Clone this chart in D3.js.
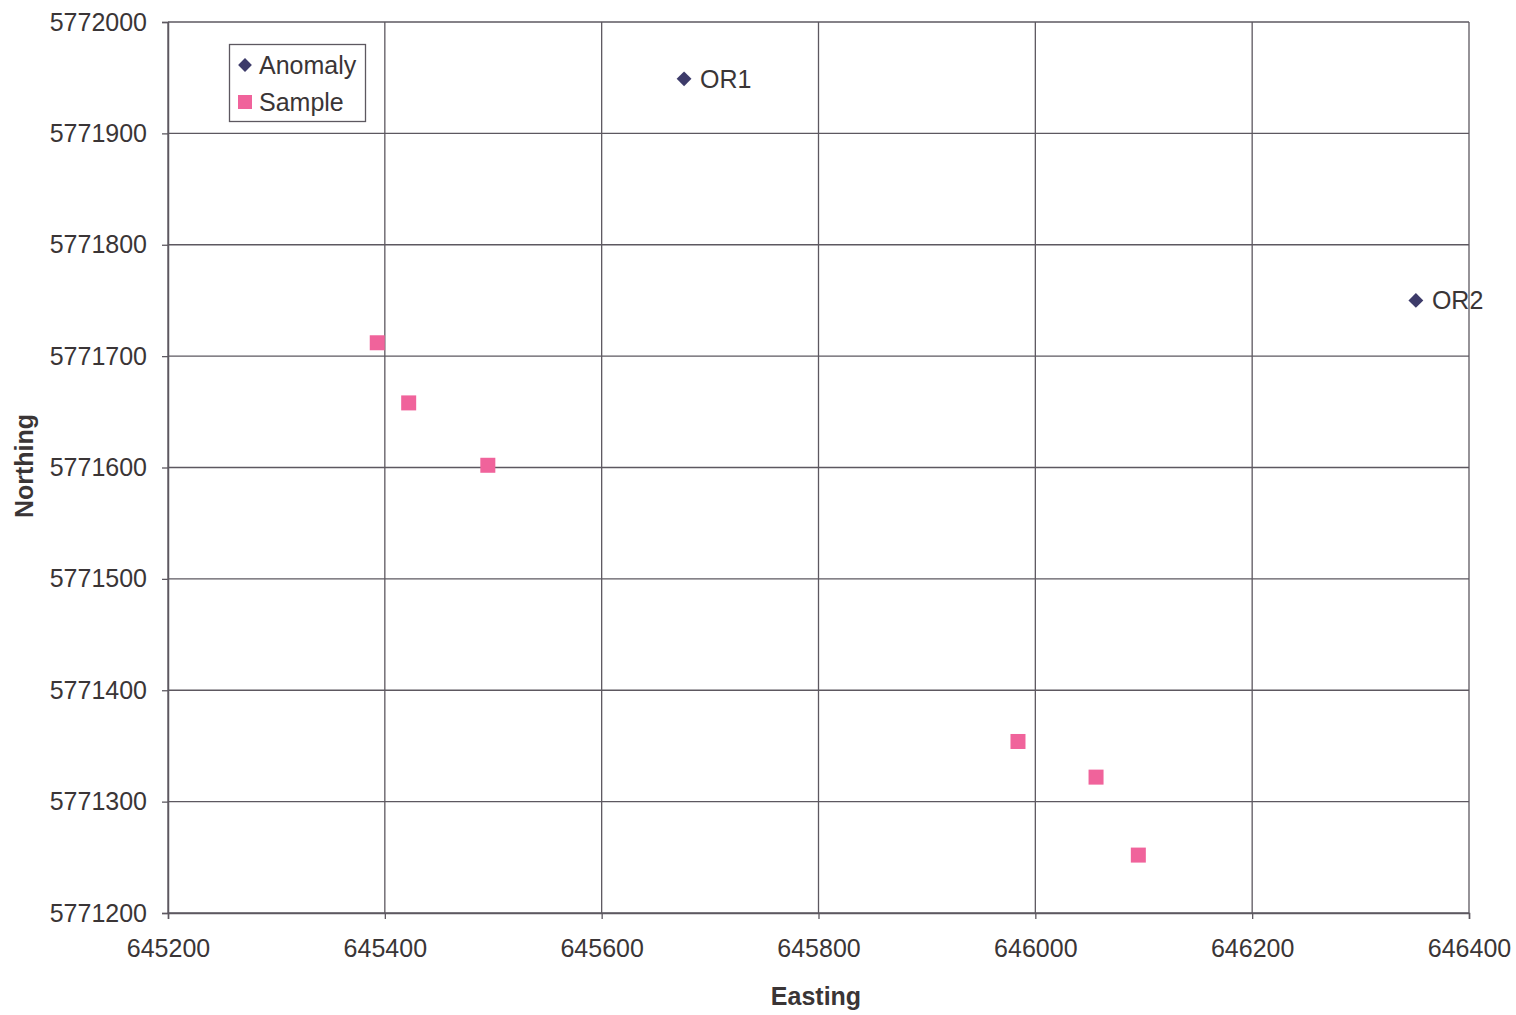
<!DOCTYPE html>
<html><head><meta charset="utf-8">
<script src="https://cdn.jsdelivr.net/npm/d3@7"></script>
<style>body{margin:0;background:#fff;} text{font-family:"Liberation Sans",Arial,sans-serif;fill:#3a3536;}</style>
</head><body>
<svg id="c" width="1516" height="1015"></svg>
<script>
const xTicks = [645200, 645400, 645600, 645800, 646000, 646200, 646400];
const yTicks = [5771200, 5771300, 5771400, 5771500, 5771600, 5771700, 5771800, 5771900, 5772000];
const anomalyNames = ["OR1", "OR2"];
const anomalyEasting = [645676, 646351];
const anomalyNorthing = [5771949, 5771750];
const sampleEasting = [645393, 645422, 645495, 645984, 646056, 646095];
const sampleNorthing = [5771712, 5771658, 5771602, 5771354, 5771322, 5771252];

const svg = d3.select("#c");
const L = 168, R = 1469, T = 22, B = 913;
const x = d3.scaleLinear().domain([645200, 646400]).range([L, R]);
const y = d3.scaleLinear().domain([5771200, 5772000]).range([B, T]);
const grid = "#5d5860";
const fs = 25;

// gridlines
svg.append("g").selectAll("line").data(xTicks).join("line")
  .attr("x1", d => x(d)).attr("x2", d => x(d)).attr("y1", T).attr("y2", B)
  .attr("stroke", grid).attr("stroke-width", 1.3);
svg.append("g").selectAll("line").data(yTicks).join("line")
  .attr("x1", L).attr("x2", R).attr("y1", d => y(d)).attr("y2", d => y(d))
  .attr("stroke", grid).attr("stroke-width", 1.3);

// axes
const xAxis = svg.append("g").attr("transform", `translate(0,${B})`)
  .call(d3.axisBottom(x).tickValues(xTicks).tickFormat(d3.format("d")).tickSize(6).tickPadding(20));
const yAxis = svg.append("g").attr("transform", `translate(${L},0)`)
  .call(d3.axisLeft(y).tickValues(yTicks).tickFormat(d3.format("d")).tickSize(6).tickPadding(15));
[xAxis, yAxis].forEach(a => {
  a.select(".domain").attr("stroke", grid).attr("stroke-width", 1.5);
  a.selectAll(".tick line").attr("stroke", grid).attr("stroke-width", 1.3);
  a.selectAll(".tick text").attr("font-size", fs).attr("font-family", "Liberation Sans, Arial, sans-serif").attr("fill", "#3a3536");
});

// axis titles
svg.append("text").attr("x", 816).attr("y", 1005).attr("text-anchor", "middle")
  .attr("font-size", fs).attr("font-weight", "bold").text("Easting");
svg.append("text").attr("transform", "translate(33,466) rotate(-90)").attr("text-anchor", "middle")
  .attr("font-size", fs).attr("font-weight", "bold").text("Northing");

const navy = "#3d3b6a", pink = "#f0639b";

// samples
svg.append("g").selectAll("rect").data(sampleEasting).join("rect")
  .attr("x", (d, i) => x(d) - 7.5).attr("y", (d, i) => y(sampleNorthing[i]) - 7.5)
  .attr("width", 15).attr("height", 15).attr("fill", pink);

// anomalies
const ag = svg.append("g");
ag.selectAll("path").data(anomalyEasting).join("path")
  .attr("transform", (d, i) => `translate(${x(d)},${y(anomalyNorthing[i])}) rotate(45)`)
  .attr("d", d3.symbol().type(d3.symbolSquare).size(110)).attr("fill", navy);
ag.selectAll("text").data(anomalyEasting).join("text")
  .attr("x", d => x(d) + 16).attr("y", (d, i) => y(anomalyNorthing[i]) + 9)
  .attr("font-size", fs).attr("fill", "#2e2a2c").text((d, i) => anomalyNames[i]);

// legend
const lg = svg.append("g");
lg.append("rect").attr("x", 229.5).attr("y", 44.5).attr("width", 136).attr("height", 77)
  .attr("fill", "#fff").attr("stroke", grid).attr("stroke-width", 1.3);
lg.append("path").attr("transform", "translate(245,65) rotate(45)")
  .attr("d", d3.symbol().type(d3.symbolSquare).size(95)).attr("fill", navy);
lg.append("rect").attr("x", 238).attr("y", 95).attr("width", 14).attr("height", 14).attr("fill", pink);
lg.append("text").attr("x", 259).attr("y", 74).attr("font-size", fs).attr("fill", "#2e2a2c").text("Anomaly");
lg.append("text").attr("x", 259).attr("y", 111).attr("font-size", fs).attr("fill", "#2e2a2c").text("Sample");
</script>
</body></html>
